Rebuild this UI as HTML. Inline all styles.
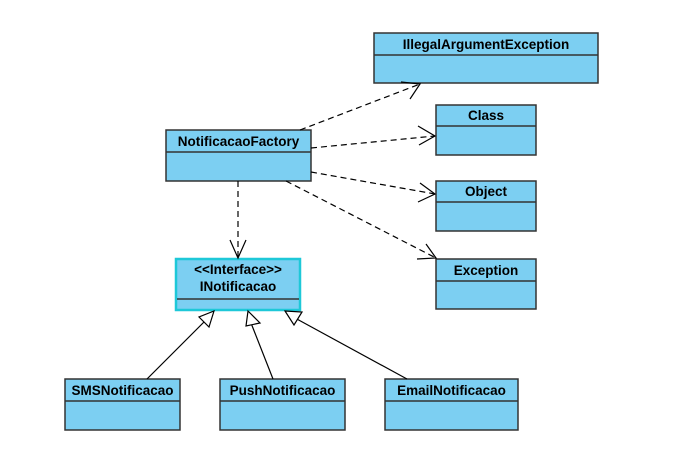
<!DOCTYPE html>
<html><head><style>body{margin:0;background:#fff}svg{display:block}text{font-family:"Liberation Sans",Arial,sans-serif;font-weight:bold;font-size:13.5px;fill:#000}</style></head><body>
<svg width="677" height="468" viewBox="0 0 677 468">
<g fill="#7ccff2" stroke="#333" stroke-width="1.5">
<rect x="166" y="130" width="145" height="51"/><line x1="166" y1="152" x2="311" y2="152"/>
<rect x="374" y="33" width="224" height="50"/><line x1="374" y1="55" x2="598" y2="55"/>
<rect x="436" y="105" width="100" height="50"/><line x1="436" y1="126" x2="536" y2="126"/>
<rect x="436" y="181" width="100" height="50"/><line x1="436" y1="202" x2="536" y2="202"/>
<rect x="436" y="259" width="100" height="50"/><line x1="436" y1="281" x2="536" y2="281"/>
<rect x="65" y="379" width="115" height="51"/><line x1="65" y1="401" x2="180" y2="401"/>
<rect x="220" y="379" width="125" height="51"/><line x1="220" y1="401" x2="345" y2="401"/>
<rect x="385" y="379" width="133" height="51"/><line x1="385" y1="401" x2="518" y2="401"/>
</g>
<rect x="176" y="259" width="124" height="51" fill="#7ccff2" stroke="#1ec8d8" stroke-width="2.5"/>
<line x1="177" y1="299" x2="299" y2="299" stroke="#333" stroke-width="1.5"/>
<text x="238.5" y="146" text-anchor="middle">NotificacaoFactory</text>
<text x="486" y="49" text-anchor="middle">IllegalArgumentException</text>
<text x="486" y="120" text-anchor="middle">Class</text>
<text x="486" y="196" text-anchor="middle">Object</text>
<text x="486" y="275" text-anchor="middle">Exception</text>
<text x="238" y="274" text-anchor="middle">&lt;&lt;Interface&gt;&gt;</text>
<text x="238" y="291" text-anchor="middle">INotificacao</text>
<text x="122.5" y="395" text-anchor="middle">SMSNotificacao</text>
<text x="282.5" y="395" text-anchor="middle">PushNotificacao</text>
<text x="451.5" y="395" text-anchor="middle">EmailNotificacao</text>
<g stroke="#000" stroke-width="1.2" fill="none" stroke-dasharray="6,4">
<line x1="300" y1="130" x2="420" y2="84"/>
<line x1="311" y1="148" x2="435" y2="136"/>
<line x1="311" y1="172" x2="435" y2="194"/>
<line x1="286" y1="181" x2="436" y2="258"/>
<line x1="238" y1="181" x2="238" y2="258"/>
</g>
<g stroke="#000" stroke-width="1.2" fill="none">
<polyline points="401,82 420,84 410,99"/>
<polyline points="418,126 435,136 419,145"/>
<polyline points="420,183 435,194 418,202"/>
<polyline points="426,244 436,258 417,259"/>
<polyline points="230,240 238,258 246,240"/>
<line x1="147" y1="379" x2="206" y2="320"/>
<line x1="273" y1="379" x2="251" y2="323"/>
<line x1="407" y1="379" x2="295" y2="318"/>
</g>
<g stroke="#000" stroke-width="1.2" fill="#fff">
<polygon points="214,311 209,327 199,317"/>
<polygon points="248,311 260,323 246,326"/>
<polygon points="285,311 302,312 294,325"/>
</g>
</svg>
</body></html>
